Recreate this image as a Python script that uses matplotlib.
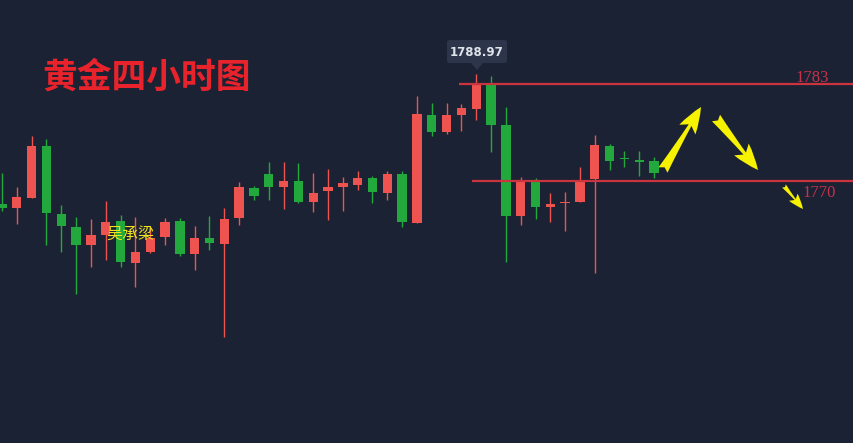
import matplotlib
matplotlib.use("Agg")
import matplotlib.pyplot as plt
from matplotlib.patches import FancyBboxPatch, Polygon
import numpy as np

plt.rcParams['font.family'] = ['Noto Sans CJK SC', 'DejaVu Sans']

# ---- data (4-hour gold candles) ----
opens = [1771.55, 1771.01, 1772.35, 1779.32, 1770.21, 1768.47, 1766.06, 1767.40, 1769.27, 1763.64,
         1765.12, 1767.13, 1769.27, 1764.85, 1766.99, 1766.19, 1769.67, 1773.69, 1775.57, 1773.83,
         1774.63, 1771.82, 1773.29, 1773.83, 1774.10, 1775.03, 1773.02, 1775.57, 1769.00, 1783.48,
         1781.20, 1783.48, 1784.28, 1787.63, 1782.14, 1769.94, 1774.63, 1771.15, 1771.68, 1771.82,
         1774.90, 1779.32, 1777.71, 1777.38, 1777.31]
closes = [1771.01, 1772.49, 1779.32, 1770.34, 1768.60, 1766.06, 1767.40, 1769.14, 1763.78, 1765.12,
          1766.99, 1769.14, 1764.85, 1766.99, 1766.32, 1769.54, 1773.83, 1772.62, 1773.83, 1774.63,
          1771.82, 1773.02, 1773.83, 1774.36, 1775.03, 1773.16, 1775.57, 1769.14, 1783.61, 1781.20,
          1783.48, 1784.41, 1787.76, 1782.14, 1769.94, 1774.63, 1771.15, 1771.55, 1771.82, 1774.77,
          1779.46, 1777.31, 1777.58, 1777.24, 1775.70]
highs = [1775.70, 1773.83, 1780.66, 1780.26, 1771.42, 1769.81, 1769.54, 1771.95, 1770.08, 1769.81,
         1768.33, 1769.67, 1769.67, 1768.60, 1769.94, 1771.01, 1774.50, 1773.96, 1777.18, 1777.18,
         1777.04, 1775.70, 1776.24, 1775.17, 1775.97, 1775.30, 1775.97, 1775.97, 1786.02, 1785.08,
         1785.08, 1784.95, 1788.97, 1788.70, 1784.55, 1775.17, 1775.03, 1773.02, 1773.16, 1776.51,
         1780.80, 1779.59, 1778.65, 1778.65, 1777.85]
lows = [1770.61, 1768.87, 1772.35, 1766.06, 1765.12, 1759.49, 1763.11, 1764.05, 1763.11, 1760.43,
        1764.98, 1766.06, 1764.58, 1762.71, 1765.39, 1753.73, 1768.74, 1772.09, 1772.09, 1770.88,
        1771.68, 1770.48, 1769.41, 1770.61, 1773.43, 1771.68, 1772.09, 1768.47, 1769.00, 1780.66,
        1780.93, 1781.33, 1782.81, 1778.52, 1763.78, 1768.74, 1769.54, 1769.14, 1767.93, 1771.82,
        1762.30, 1776.11, 1776.51, 1775.30, 1775.03]

level_values = [1787.63, 1774.63]
level_labels = ["1783", "1770"]
peak_label = "1788.97"
title_text = "黄金四小时图"
watermark_text = "吴承梁"

# ---- style ----
BG = "#1b2233"
UP = "#ee5350"
DOWN = "#22a83c"
LINE = "#c9343f"
LABEL = "#c8324a"
YELLOW = "#f7f200"

W, H = 854, 443
fig = plt.figure(figsize=(W / 100, H / 100), dpi=100, facecolor=BG)
ax = fig.add_axes([0, 0, 1, 1], facecolor=BG)
ax.set_axis_off()

step = 14.82
x0 = 2.0
ax.set_xlim(-x0 / step, (W - x0) / step)
top_price = 1788.97 + 74 * 0.134
ax.set_ylim(top_price - H * 0.134, top_price)

o = np.array(opens); c = np.array(closes); h = np.array(highs); l = np.array(lows)
xs = np.arange(len(o))
up = c >= o
colors = np.where(up, UP, DOWN)

ax.vlines(xs, l, h, colors=colors, linewidth=1.0, zorder=2)
bottoms = np.minimum(o, c)
heights = np.maximum(np.abs(c - o), 0.15)
ax.bar(xs, heights, bottom=bottoms, width=0.63, color=colors, linewidth=0, zorder=3)

def fx(px):
    return px / W

def fy(py):
    return 1 - py / H

# horizontal levels
starts_px = [459, 472]
for lv, sp in zip(level_values, starts_px):
    ax.hlines(lv, (sp - x0) / step, (W - x0) / step, colors=LINE, linewidth=1.6, zorder=4)

fig.text(fx(795), fy(78), level_labels[0], color=LABEL, fontsize=12,
         family=['Liberation Serif'], va='center', ha='left')
fig.text(fx(802), fy(193), level_labels[1], color=LABEL, fontsize=12,
         family=['Liberation Serif'], va='center', ha='left')

# tooltip for the peak
box = FancyBboxPatch((fx(447), fy(63)), fx(60), 23 / H,
                     boxstyle="round,pad=0,rounding_size=0.004",
                     transform=fig.transFigure, facecolor="#2c3549",
                     edgecolor="none", zorder=1)
fig.patches.append(box)
tri = Polygon([(fx(471), fy(63)), (fx(483), fy(63)), (fx(477), fy(70))],
              closed=True, transform=fig.transFigure, facecolor="#2c3549",
              edgecolor="none", zorder=1)
fig.patches.append(tri)
fig.text(fx(477), fy(52), peak_label, color="#dfe3ea", fontsize=8.5,
         family=['DejaVu Sans'], weight='bold', ha='center', va='center', zorder=10)

# title and watermark
fig.text(fx(42), fy(77), title_text, color="#e8232b", fontsize=25,
         weight='bold', ha='left', va='center', zorder=10)
fig.text(fx(130), fy(234), watermark_text, color="#f2e21e", fontsize=11.5,
         ha='center', va='center', zorder=10)

# yellow arrows
def arrow(p0, p1, hl, hw, tw):
    ax.annotate("", xy=(p1[0], H - p1[1]), xycoords='figure pixels',
                xytext=(p0[0], H - p0[1]), textcoords='figure pixels',
                arrowprops=dict(arrowstyle=f"fancy,head_length={hl},head_width={hw},tail_width={tw}",
                                color=YELLOW, shrinkA=0, shrinkB=0, lw=0,
                                mutation_scale=10))

arrow((663, 170), (701, 107), 1.9, 1.35, 0.75)
arrow((716, 118), (758, 170), 1.9, 1.35, 0.75)
arrow((784, 186), (803, 209), 1.1, 0.8, 0.35)

fig.savefig("out.png", dpi=100, facecolor=BG)
